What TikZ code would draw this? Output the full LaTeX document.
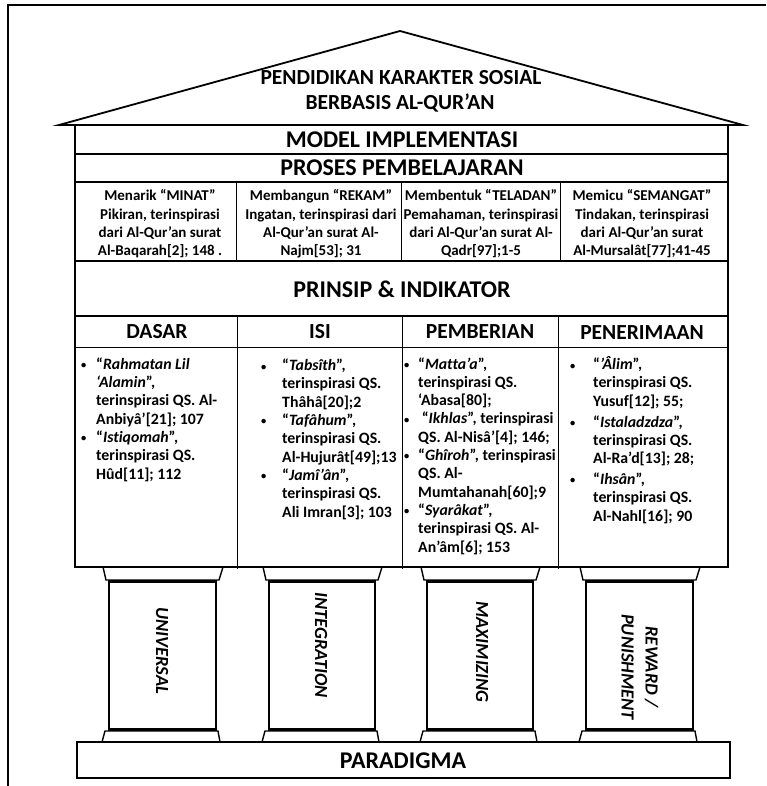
\documentclass[tikz,border=0pt]{standalone}
\usepackage{fontspec}
\setmainfont{Carlito}[Ligatures={NoCommon}]
\newcommand\bdot{{\fontsize{10.5}{10}\selectfont\raisebox{0.6pt}{•}}}
\begin{document}
\begin{tikzpicture}[x=1pt,y=-1pt,
  ttl/.style={font=\bfseries\fontsize{21.5}{25}\selectfont, inner sep=0},
  big/.style={font=\bfseries\fontsize{24}{28}\selectfont, inner sep=0},
  hdr/.style={font=\bfseries\fontsize{21.5}{24}\selectfont, inner sep=0},
  cell/.style={font=\bfseries\fontsize{15}{18.3}\selectfont, align=center, inner sep=0},
  blt/.style={font=\bfseries\fontsize{15.8}{18.3}\selectfont, align=left, inner sep=0, anchor=base west},
  plr/.style={font=\bfseries\itshape\fontsize{18.5}{24}\selectfont, align=center, inner sep=0, rotate=-90},
  thin/.style={line width=1pt},
  mid/.style={line width=1.8pt},
  thick/.style={line width=2.6pt}]
\useasboundingbox (0,0) rectangle (766,786);
% outer frame
\draw[mid] (8,786) -- (8,5) -- (766,5);
% roof
\draw[mid, line join=miter] (59,125) -- (400,31) -- (743,125) -- cycle;
\node[ttl] (t1) at (401,78) {PENDIDIKAN KARAKTER SOSIAL};
\node[ttl] (t2) at (400,103) {BERBASIS AL-QUR’AN};
% body
\draw[thick] (75,125) -- (75,567) -- (728,567) -- (728,125);
\draw[mid] (75,154) -- (728,154);
\draw[thick] (75,182) -- (728,182);
\draw[mid] (75,261) -- (728,261);
\draw[mid] (75,316) -- (728,316);
\draw[thin] (75,347) -- (728,347);
\foreach \x in {236,401,560} \draw[thin] (\x,182) -- (\x,261);
\foreach \x in {237,402,558} \draw[thin] (\x,316) -- (\x,569);
\node[big] (model) at (402,140) {MODEL IMPLEMENTASI};
\node[big] (proses) at (402,168) {PROSES PEMBELAJARAN};
\node[cell] (c1) at (160,224) {Menarik “MINAT”\\Pikiran, terinspirasi\\dari Al-Qur’an surat\\Al-Baqarah[2]; 148 .};
\node[cell] (c2) at (321,224) {Membangun “REKAM”\\Ingatan, terinspirasi dari\\Al-Qur’an surat Al-\\Najm[53]; 31};
\node[cell] (c3) at (481,224) {Membentuk “TELADAN”\\Pemahaman, terinspirasi\\dari Al-Qur’an surat Al-\\Qadr[97];1-5};
\node[cell] (c4) at (642,224) {Memicu “SEMANGAT”\\Tindakan, terinspirasi\\dari Al-Qur’an surat\\Al-Mursalât[77];41-45};
\node[big] (prinsip) at (402,289) {PRINSIP \& INDIKATOR};
\node[hdr] (h1) at (157,332) {DASAR};
\node[hdr] (h2) at (320,332) {ISI};
\node[hdr] (h3) at (480,332) {PEMBERIAN};
\node[hdr] (h4) at (642,333) {PENERIMAAN};
% bullets (anchored at the baseline of the last line)
\node[blt] (b1) at (81,479) {\makebox[15pt][l]{\bdot}“\textit{Rahmatan Lil}\\
\hspace*{15pt}\textit{‘Alamin}”,\\
\hspace*{15pt}terinspirasi QS. Al-\\
\hspace*{15pt}Anbiyâ’[21]; 107\\
\makebox[15pt][l]{\bdot}“\textit{Istiqomah}”,\\
\hspace*{15pt}terinspirasi QS.\\
\hspace*{15pt}Hûd[11]; 112};
\node[blt] (b2) at (261,517) {\makebox[21pt][l]{\bdot}“\textit{Tabsîth}”,\\
\hspace*{21pt}terinspirasi QS.\\
\hspace*{21pt}Thâhâ[20];2\\
\makebox[21pt][l]{\bdot}“\textit{Tafâhum}”,\\
\hspace*{21pt}terinspirasi QS.\\
\hspace*{21pt}Al-Hujurât[49];13\\
\makebox[21pt][l]{\bdot}“\textit{Jamî’ân}”,\\
\hspace*{21pt}terinspirasi QS.\\
\hspace*{21pt}Ali Imran[3]; 103};
\node[blt] (b3) at (404,552) {\makebox[14pt][l]{\bdot}“\textit{Matta’a}”,\\
\hspace*{14pt}terinspirasi QS.\\
\hspace*{14pt}‘Abasa[80];\\
\makebox[14pt][l]{\bdot} “\textit{Ikhlas}”, terinspirasi\\
\hspace*{14pt}QS. Al-Nisâ’[4]; 146;\\
\makebox[14pt][l]{\bdot}“\textit{Ghîroh}”, terinspirasi\\
\hspace*{14pt}QS. Al-\\
\hspace*{14pt}Mumtahanah[60];9\\
\makebox[14pt][l]{\bdot}“\textit{Syarâkat}”,\\
\hspace*{14pt}terinspirasi QS. Al-\\
\hspace*{14pt}An’âm[6]; 153};
\node[blt] (b4) at (570,521) {\makebox[23pt][l]{\bdot}“\textit{’Âlim}”,\\
\hspace*{23pt}terinspirasi QS.\\
\hspace*{23pt}Yusuf[12]; 55;\\[2.5pt]
\makebox[23pt][l]{\bdot}“\textit{Istaladzdza}”,\\
\hspace*{23pt}terinspirasi QS.\\
\hspace*{23pt}Al-Ra’d[13]; 28;\\[2.5pt]
\makebox[23pt][l]{\bdot}“\textit{Ihsân}”,\\
\hspace*{23pt}terinspirasi QS.\\
\hspace*{23pt}Al-Nahl[16]; 90};
% pillars
\foreach \a/\b in {109/216, 269/375, 427/533, 586/693}{
  \draw[line width=1.4pt, line join=miter] (\a-6,567) -- (\a-3,580) -- (\b+3,580) -- (\b+7,567);
  \draw[line width=1.4pt] (\a,581) -- (\a,729) (\b,581) -- (\b,729);
  \draw[line width=3pt] (\a-1,581.5) -- (\b+1,581.5) (\a-1,729) -- (\b+1,729);
  \draw[line width=1.4pt, line join=miter] (\a-4,731) -- (\a-7,742) -- (\b+4,742) -- (\b+2,731) -- cycle;
}
\node[plr] (p1) at (162,651) {UNIVERSAL};
\node[plr] (p2) at (321,645) {INTEGRATION};
\node[plr] (p3) at (482,652) {MAXIMIZING};
\node[plr] (p4) at (640,667) {REWARD /\\PUNISHMENT};
% paradigma
\draw[mid] (77,742) rectangle (730,778);
\node[big] (para) at (403,761) {PARADIGMA};
\end{tikzpicture}
\end{document}
